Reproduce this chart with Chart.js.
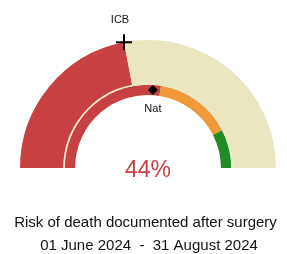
<!DOCTYPE html>
<html><head><meta charset="utf-8">
<script src="https://cdn.jsdelivr.net/npm/chart.js@4"></script>
<style>html,body{margin:0;padding:0;background:#fff;}#wrap{width:287px;height:254px;position:relative;}</style>
</head><body><div id="wrap"><canvas id="c" width="287" height="254"></canvas></div>
<script>
const outerLabels = ['ICB', 'Remainder'];
const outerValues = [44, 56];
const bandLabels = ['Red', 'Amber', 'Green'];
const bandValues = [55, 30, 15];
const icbValue = 44;
const natValue = 52;
const valueText = '44%';
const titleLines = ['Risk of death documented after surgery', '01 June 2024  -  31 August 2024'];

const RED = '#C84142', BEIGE = '#EAE6BF', ORANGE = '#F19838', GREEN = '#238B24';

const markers = {
  id: 'markers',
  afterDatasetsDraw(chart) {
    const ctx = chart.ctx;
    const outer = chart.getDatasetMeta(0).data[0];
    const inner = chart.getDatasetMeta(2).data[0];
    const cx = outer.x, cy = outer.y;
    const start = outer.startAngle;
    const total = chart.getDatasetMeta(0).data.reduce((s, a) => s + a.circumference, 0);
    // ICB cross at outer radius
    const aI = start + icbValue / 100 * total;
    const rI = outer.outerRadius;
    const xI = cx + Math.cos(aI) * rI, yI = cy + Math.sin(aI) * rI;
    ctx.save();
    ctx.strokeStyle = '#000'; ctx.lineWidth = 2;
    ctx.beginPath();
    ctx.moveTo(xI - 8, yI); ctx.lineTo(xI + 8, yI);
    ctx.moveTo(xI, yI - 8); ctx.lineTo(xI, yI + 8);
    ctx.stroke();
    ctx.fillStyle = '#111';
    ctx.font = '11px "Liberation Sans", Arial, sans-serif';
    ctx.textAlign = 'center'; ctx.textBaseline = 'alphabetic';
    ctx.fillText('ICB', xI - 4, yI - 19);
    // Nat diamond at middle of inner ring
    const aN = start + natValue / 100 * total;
    const rN = (inner.outerRadius + inner.innerRadius) / 2;
    const xN = cx + Math.cos(aN) * rN, yN = cy + Math.sin(aN) * rN;
    ctx.fillStyle = '#000';
    ctx.beginPath();
    ctx.moveTo(xN, yN - 5); ctx.lineTo(xN + 5, yN); ctx.lineTo(xN, yN + 5); ctx.lineTo(xN - 5, yN);
    ctx.closePath(); ctx.fill();
    ctx.fillStyle = '#111';
    ctx.fillText('Nat', xN, yN + 22);
    // center value
    ctx.fillStyle = '#C84142';
    ctx.font = '23px "Liberation Sans", Arial, sans-serif';
    ctx.fillText(valueText, cx, cy + 9);
    // title
    ctx.fillStyle = '#111';
    ctx.font = '15px "Liberation Sans", Arial, sans-serif';
    ctx.fillText(titleLines[0], cx - 2.5, 227);
    ctx.fillText(titleLines[1], cx + 1, 250);
    ctx.restore();
  }
};

new Chart(document.getElementById('c'), {
  type: 'doughnut',
  data: {
    labels: outerLabels,
    datasets: [
      { data: outerValues, backgroundColor: [RED, BEIGE], borderWidth: 0, weight: 44 },
      { data: [100], backgroundColor: [BEIGE], borderWidth: 0, weight: 1.5 },
      { data: bandValues, backgroundColor: [RED, ORANGE, GREEN], borderWidth: 0, weight: 10.5 }
    ]
  },
  options: {
    responsive: false,
    animation: false,
    rotation: -90,
    circumference: 180,
    cutout: '57%',
    layout: { padding: { left: 20, right: 11, top: 40, bottom: 86 } },
    plugins: { legend: { display: false }, tooltip: { enabled: false }, title: { display: false } }
  },
  plugins: [markers]
});
</script></body></html>
